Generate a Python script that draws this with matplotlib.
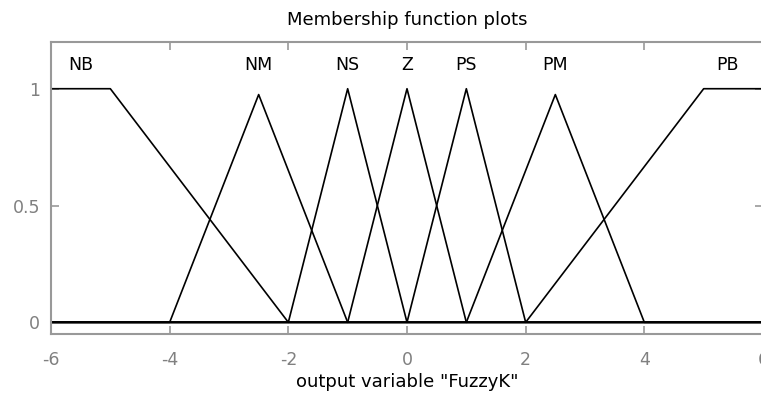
import matplotlib.pyplot as plt

plt.rcParams['font.family'] = ['DejaVu Sans']

# membership functions of the output variable (vertex x / y)
mf_names = ['NB', 'NM', 'NS', 'Z', 'PS', 'PM', 'PB']
mf_x = [
    [-6, -5, -2, 6],
    [-6, -4, -2.5, -1, 6],
    [-6, -2, -1, 0, 6],
    [-6, -1, 0, 1, 6],
    [-6, 0, 1, 2, 6],
    [-6, 1, 2.5, 4, 6],
    [-6, 2, 5, 6],
]
mf_y = [
    [1, 1, 0, 0],
    [0, 0, 0.975, 0, 0],
    [0, 0, 1, 0, 0],
    [0, 0, 1, 0, 0],
    [0, 0, 1, 0, 0],
    [0, 0, 0.975, 0, 0],
    [0, 0, 1, 1],
]
label_x = [-5.5, -2.5, -1, 0, 1, 2.5, 5.4]
xticks = [-6, -4, -2, 0, 2, 4, 6]
yticks = [0, 0.5, 1]

fig = plt.figure(figsize=(7.61, 3.95), dpi=100)
ax = fig.add_axes([51/761, 61/395, 712/761, 292/395])

for xs, ys in zip(mf_x, mf_y):
    ax.plot(xs, ys, color='black', lw=1.2)
for name, lx in zip(mf_names, label_x):
    ax.text(lx, 1.1, name, ha='center', va='center', fontsize=12.5)

ax.set_xlim(-6, 6)
ax.set_ylim(-0.05, 1.2)
ax.set_xticks(xticks)
ax.set_xticklabels([str(v) for v in xticks])
ax.set_yticks(yticks)
ax.set_yticklabels(['0', '0.5', '1'])
ax.tick_params(direction='in', length=6, width=1.2, color='#999999',
               labelcolor='#808080', labelsize=12.5, top=True, right=True)
ax.tick_params(axis='x', pad=12)
ax.tick_params(axis='y', pad=8)
for s in ax.spines.values():
    s.set_color('#999999')
    s.set_linewidth(1.5)

ax.set_title('Membership function plots', fontsize=13, pad=12)
ax.set_xlabel('output variable "FuzzyK"', fontsize=13, labelpad=3)

fig.savefig('out.png', dpi=100)
